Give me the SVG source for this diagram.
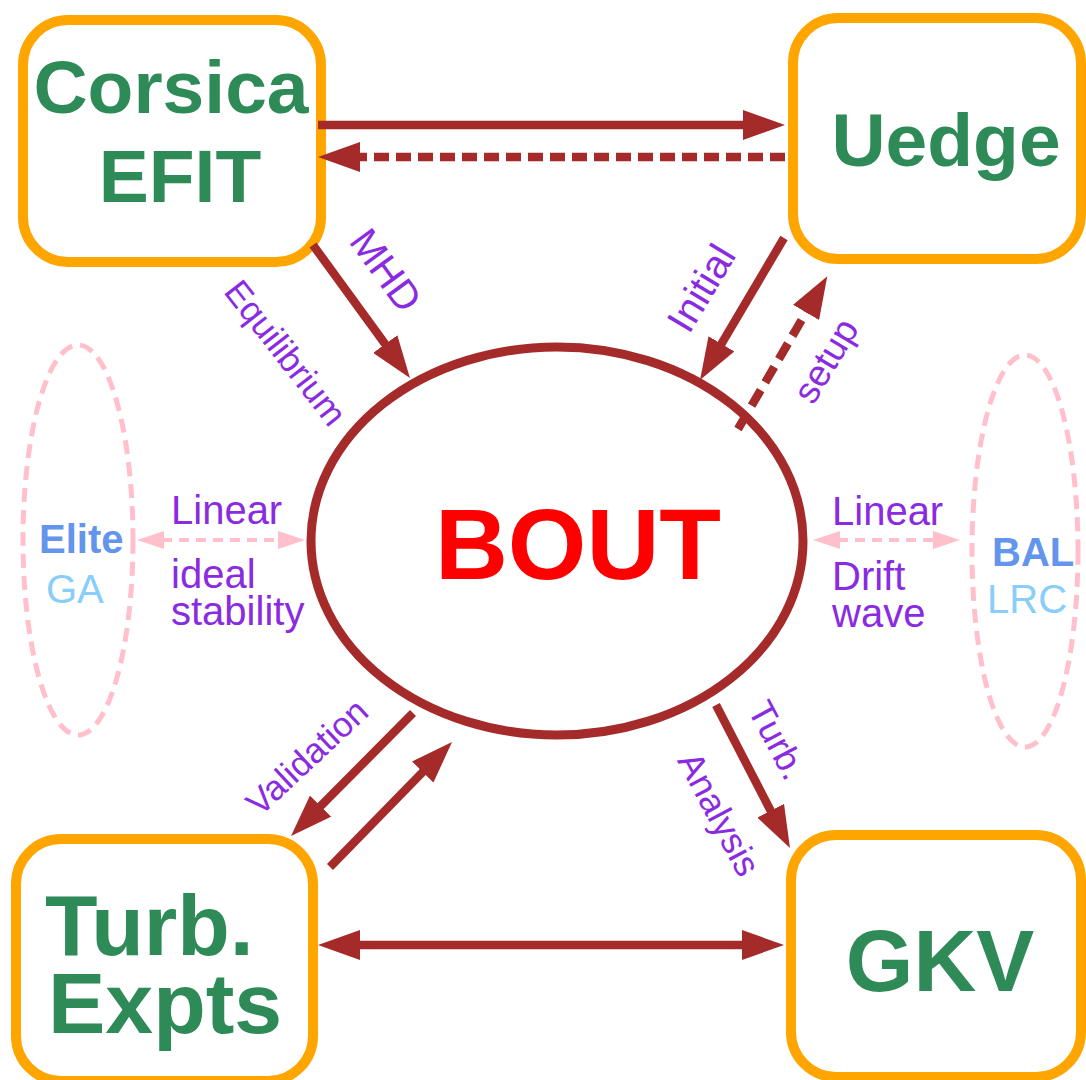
<svg xmlns="http://www.w3.org/2000/svg" width="1086" height="1080" viewBox="0 0 1086 1080">
<style>
.box{fill:#fff;stroke:#FFA500;stroke-width:10}
.nt{font-family:"Liberation Sans",Arial,sans-serif;font-weight:bold;fill:#2E8B57}
.lbl{font-family:"Liberation Sans",Arial,sans-serif;fill:#8A2BE2}
.br{stroke:#A52A2A;stroke-width:8.5;fill:none}
.dash{stroke-dasharray:15 7}
.pk{stroke:#FFC0CB;stroke-width:4;fill:none;stroke-dasharray:10 7}
.pe{stroke:#FFC0CB;stroke-width:5;fill:none;stroke-dasharray:14 8}
</style>
<defs>
<marker id="ah" markerUnits="userSpaceOnUse" viewBox="0 0 42 30" refX="2" refY="15" markerWidth="42" markerHeight="30" orient="auto-start-reverse"><path d="M0,0 L42,15 L0,30 z" fill="#A52A2A"/></marker>
<marker id="ahp" markerUnits="userSpaceOnUse" viewBox="0 0 27 18" refX="2" refY="9" markerWidth="27" markerHeight="18" orient="auto-start-reverse"><path d="M0,0 L27,9 L0,18 z" fill="#FFC0CB"/></marker>
</defs>
<g id="corsica"><rect class="box" x="23" y="20" width="298" height="242" rx="45"/><text class="nt" font-size="75" x="171" y="113" text-anchor="middle">Corsica</text><text class="nt" font-size="75" x="180" y="202" text-anchor="middle">EFIT</text></g>
<g id="uedge"><rect class="box" x="793" y="18" width="288" height="241" rx="45"/><text class="nt" font-size="75" x="946" y="166" text-anchor="middle">Uedge</text></g>
<g id="turb"><rect class="box" x="16" y="839" width="297" height="242" rx="45"/><text class="nt" font-size="86" x="45" y="955">Turb.</text><text class="nt" font-size="86" x="48" y="1033">Expts</text></g>
<g id="gkv"><rect class="box" x="791" y="835" width="290" height="242" rx="45"/><text class="nt" font-size="87" x="940" y="991" text-anchor="middle">GKV</text></g>
<g id="bout"><ellipse cx="557" cy="541" rx="246" ry="194" fill="none" stroke="#A52A2A" stroke-width="9"/><text x="578" y="579" font-family="Liberation Sans,Arial,sans-serif" font-weight="bold" font-size="101" fill="#FF0000" text-anchor="middle">BOUT</text></g>
<g id="elite"><ellipse class="pe" cx="78" cy="540" rx="55" ry="195"/><text x="39" y="553" font-family="Liberation Sans,Arial,sans-serif" font-weight="bold" font-size="40" fill="#6495ED">Elite</text><text x="46" y="603" font-family="Liberation Sans,Arial,sans-serif" font-size="40" fill="#87CEFA">GA</text></g>
<g id="bal"><ellipse class="pe" cx="1025" cy="551" rx="53" ry="196"/><text x="992" y="566" font-family="Liberation Sans,Arial,sans-serif" font-weight="bold" font-size="40" fill="#6495ED">BAL</text><text x="987" y="613" font-family="Liberation Sans,Arial,sans-serif" font-size="40" fill="#87CEFA">LRC</text></g>
<g id="connectors">
<line class="br" x1="318" y1="125" x2="745" y2="125" marker-end="url(#ah)"/>
<line class="br dash" x1="785" y1="157" x2="358" y2="157" marker-end="url(#ah)"/>
<line class="br" x1="313" y1="245" x2="386.4" y2="345.7" marker-end="url(#ah)"/>
<line class="br" x1="784" y1="238" x2="720.4" y2="345.6" marker-end="url(#ah)"/>
<line class="br" style="stroke-dasharray:18 9" x1="738" y1="429" x2="807.1" y2="310.7" marker-end="url(#ah)"/>
<line class="br" x1="413" y1="713" x2="319.2" y2="807.6" marker-end="url(#ah)"/>
<line class="br" x1="330" y1="867" x2="424.1" y2="770.6" marker-end="url(#ah)"/>
<line class="br" x1="716" y1="705" x2="771.6" y2="812.5" marker-end="url(#ah)"/>
<line class="br" x1="358" y1="945" x2="744" y2="945" marker-start="url(#ah)" marker-end="url(#ah)"/>
<line class="pk" x1="162" y1="540" x2="280" y2="540" marker-start="url(#ahp)" marker-end="url(#ahp)"/>
<line class="pk" x1="838" y1="540" x2="935" y2="540" marker-start="url(#ahp)" marker-end="url(#ahp)"/>
</g>
<g id="labels">
<text class="lbl" font-size="40" text-anchor="middle" transform="translate(386,270) rotate(54)" y="14">MHD</text>
<text class="lbl" font-size="35" text-anchor="middle" transform="translate(284,354) rotate(52)" y="10">Equilibrium</text>
<text class="lbl" font-size="40" text-anchor="middle" transform="translate(701,288) rotate(-59)" y="14">Initial</text>
<text class="lbl" font-size="37" text-anchor="middle" transform="translate(828,362) rotate(-59)" y="10">setup</text>
<text class="lbl" font-size="35" text-anchor="middle" transform="translate(307,757) rotate(-43)" y="12">Validation</text>
<text class="lbl" font-size="36" text-anchor="middle" transform="translate(778,740) rotate(62)" y="13">Turb.</text>
<text class="lbl" font-size="36" text-anchor="middle" transform="translate(717,815) rotate(62)" y="10">Analysis</text>
<text class="lbl" font-size="40" x="171" y="524">Linear</text>
<text class="lbl" font-size="40" x="171" y="588">ideal</text>
<text class="lbl" font-size="40" x="171" y="625">stability</text>
<text class="lbl" font-size="40" x="832" y="525">Linear</text>
<text class="lbl" font-size="40" x="832" y="590">Drift</text>
<text class="lbl" font-size="40" x="832" y="627">wave</text>
</g>
</svg>
